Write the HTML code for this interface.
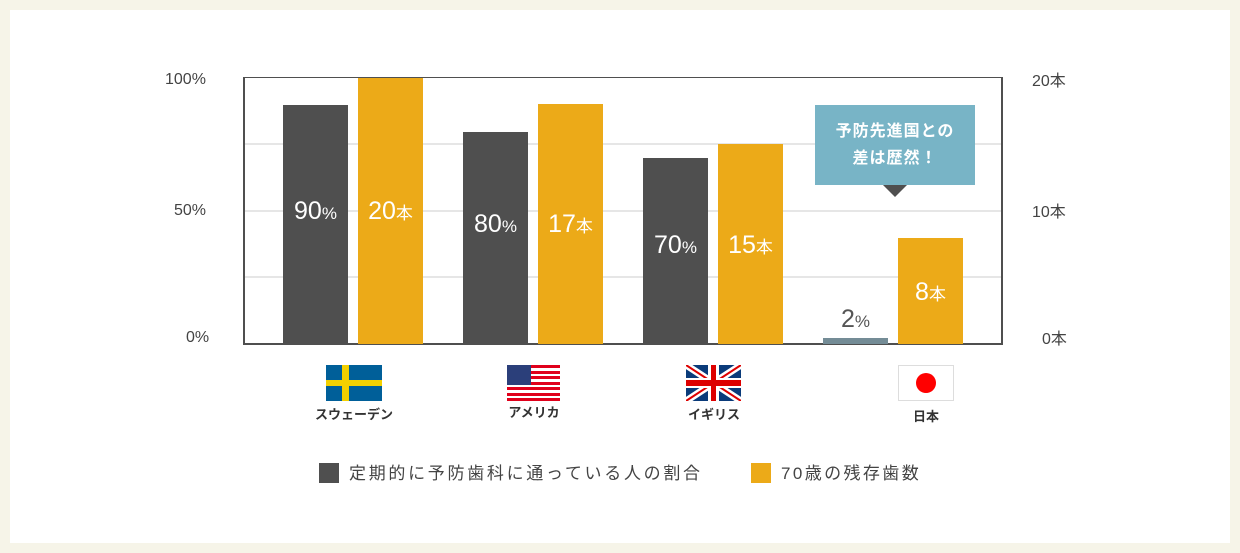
<!DOCTYPE html><html><head><meta charset="utf-8"><style>
body{margin:0;width:1240px;height:553px;background:#f6f4e8;font-family:"Liberation Sans","Noto Sans CJK JP",sans-serif;position:relative;overflow:hidden}
.p{position:absolute;left:10px;top:10px;width:1220px;height:533px;background:#fff}
.a{position:absolute}
.g{position:absolute;left:244px;width:757px;height:2px;background:#e6e6e6}
.bar{position:absolute;bottom:209px;width:65px}
.d{background:#4f4f4f}.o{background:#ecaa18}
.lb{position:absolute;width:65px;text-align:center;color:#fff;font-size:25px}
.lb small{font-size:17px}
.yl{position:absolute;font-size:16px;color:#444}
.cn{position:absolute;font-size:13px;font-weight:bold;color:#333;text-align:center;width:120px}
</style></head><body><div class="p"></div>
<div class="g" style="top:143px"></div><div class="g" style="top:210px"></div><div class="g" style="top:276px"></div>
<div class="a" style="left:243px;top:77px;width:756px;height:265px;border:2px solid #4f4f4f;border-top-width:1px"></div>
<div class="bar d" style="left:283px;top:105px;height:239px"></div>
<div class="bar o" style="left:358px;top:78px;height:266px"></div>
<div class="bar d" style="left:463px;top:132px;height:212px"></div>
<div class="bar o" style="left:538px;top:104px;height:240px"></div>
<div class="bar d" style="left:643px;top:158px;height:186px"></div>
<div class="bar o" style="left:718px;top:144px;height:200px"></div>
<div class="bar" style="left:823px;top:338px;height:6px;background:#748c96"></div>
<div class="bar o" style="left:898px;top:238px;height:106px"></div>
<div class="lb" style="left:283px;top:197px">90<small>%</small></div>
<div class="lb" style="left:358px;top:197px">20<small>本</small></div>
<div class="lb" style="left:463px;top:210px">80<small>%</small></div>
<div class="lb" style="left:538px;top:210px">17<small>本</small></div>
<div class="lb" style="left:643px;top:231px">70<small>%</small></div>
<div class="lb" style="left:718px;top:231px">15<small>本</small></div>
<div class="lb" style="left:823px;top:305px;color:#555">2<small>%</small></div>
<div class="lb" style="left:898px;top:278px">8<small>本</small></div>
<div class="a" style="left:815px;top:105px;width:160px;height:80px;background:#78b4c6;color:#fff;font-weight:bold;font-size:16px;text-align:center;line-height:27px;padding-top:13px;box-sizing:border-box;letter-spacing:1px">予防先進国との<br>差は歴然！</div>
<div class="a" style="left:883px;top:185px;width:0;height:0;border-left:12px solid transparent;border-right:12px solid transparent;border-top:12px solid #4f4f4f"></div>
<div class="yl" style="left:165px;top:71px">100%</div><div class="yl" style="left:174px;top:202px">50%</div><div class="yl" style="left:186px;top:329px">0%</div>
<div class="yl" style="left:1032px;top:67px">20本</div><div class="yl" style="left:1032px;top:198px">10本</div><div class="yl" style="left:1042px;top:325px">0本</div>
<svg class="a" style="left:326px;top:365px" width="56" height="36"><rect width="56" height="36" fill="#005f99"/><rect x="16" width="7" height="36" fill="#f3d000"/><rect y="15" width="56" height="6" fill="#f3d000"/></svg>
<svg class="a" style="left:507px;top:365px" width="53" height="36"><rect width="53" height="36" fill="#fff"/><g fill="#e0001b"><rect y="0" width="53" height="3"/><rect y="6" width="53" height="3"/><rect y="11" width="53" height="3"/><rect y="17" width="53" height="3"/><rect y="22" width="53" height="3"/><rect y="28" width="53" height="3"/><rect y="33" width="53" height="3"/></g><rect width="24" height="20" fill="#2b3f7a"/></svg>
<svg class="a" style="left:686px;top:365px" width="55" height="36"><rect width="55" height="36" fill="#0a3b7a"/><path d="M0 0L55 36M55 0L0 36" stroke="#fff" stroke-width="7"/><path d="M0 0L55 36M55 0L0 36" stroke="#d00" stroke-width="2"/><rect x="22" width="11" height="36" fill="#fff"/><rect y="13" width="55" height="10" fill="#fff"/><rect x="25" width="5" height="36" fill="#d00"/><rect y="15" width="55" height="6" fill="#d00"/></svg>
<svg class="a" style="left:898px;top:365px" width="56" height="36"><rect x=".5" y=".5" width="55" height="35" fill="#fff" stroke="#ddd"/><ellipse cx="28" cy="18" rx="10" ry="10" fill="#f00"/></svg>
<div class="cn" style="left:294px;top:404px">スウェーデン</div>
<div class="cn" style="left:474px;top:402px">アメリカ</div>
<div class="cn" style="left:654px;top:404px">イギリス</div>
<div class="cn" style="left:866px;top:406px">日本</div>
<div class="a" style="left:319px;top:463px;width:20px;height:20px;background:#4f4f4f"></div>
<div class="a" style="left:349px;top:459px;font-size:17px;color:#444;letter-spacing:2.7px">定期的に予防歯科に通っている人の割合</div>
<div class="a" style="left:751px;top:463px;width:20px;height:20px;background:#ecaa18"></div>
<div class="a" style="left:781px;top:459px;font-size:17px;color:#444;letter-spacing:2.4px">70歳の残存歯数</div>
</body></html>
